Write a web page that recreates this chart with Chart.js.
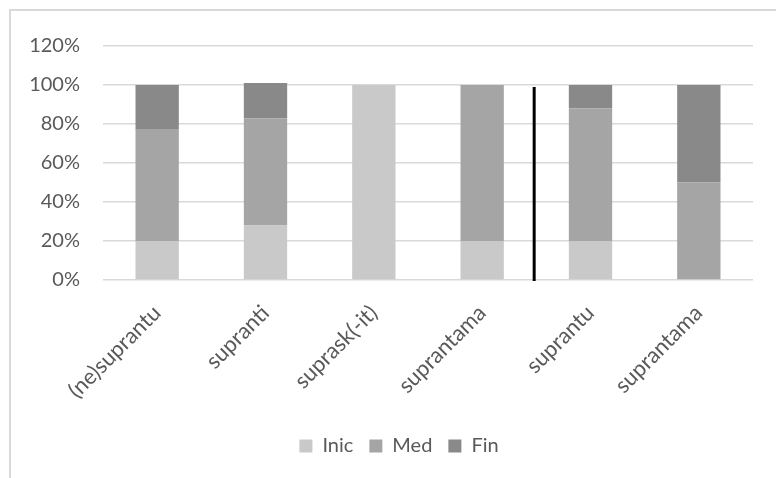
<!DOCTYPE html>
<html>
<head>
<meta charset="utf-8">
<script src="https://cdn.jsdelivr.net/npm/chart.js@4.4.1/dist/chart.umd.min.js"></script>
<style>
  html, body { margin: 0; padding: 0; background: #fff; overflow: hidden; }
  #frame {
    position: absolute;
    left: 9px;
    top: 9px;
    border-left: 2px solid #d9d9d9;
    border-top: 2px solid #d9d9d9;
  }
  canvas { display: block; }
</style>
</head>
<body>
<div id="frame">
  <canvas id="chart" width="765" height="467"></canvas>
</div>
<script>
// word forms on the x axis
const forms = ["(ne)suprantu", "supranti", "suprask(-it)", "suprantama", "suprantu", "suprantama"];

// share of each position, in percent
const inic = [20, 28, 100, 20, 20, 0];
const med = [57, 55, 0, 80, 68, 50];
const fin = [23, 18, 0, 0, 12, 50];

const yTicks = [0, 20, 40, 60, 80, 100, 120];

// black separator between the two groups of forms
const dividerX = 3.48;
const dividerTop = 99;

const dividerPlugin = {
  id: "divider",
  afterDatasetsDraw(chart) {
    const { ctx, scales } = chart;
    const x = scales.x.getPixelForValue(dividerX);
    ctx.save();
    ctx.strokeStyle = "#000";
    ctx.lineWidth = 3;
    ctx.beginPath();
    ctx.moveTo(x, scales.y.getPixelForValue(0) + 1);
    ctx.lineTo(x, scales.y.getPixelForValue(dividerTop));
    ctx.stroke();
    ctx.restore();
  }
};

// the legend sits a little right of the canvas centre
const legendShift = {
  id: "legendShift",
  afterLayout(chart) {
    chart.legend.left += 10;
    chart.legend.right += 10;
  }
};

const font = { family: "Lato", size: 20 };

new Chart(document.getElementById("chart"), {
  type: "bar",
  data: {
    labels: forms,
    datasets: [
      { label: "Inic", data: inic, backgroundColor: "#c9c9c9" },
      { label: "Med", data: med, backgroundColor: "#a5a5a5" },
      { label: "Fin", data: fin, backgroundColor: "#898989" }
    ]
  },
  options: {
    responsive: false,
    animation: false,
    layout: {
      padding: { left: 14, right: 23, top: 28, bottom: 12 }
    },
    datasets: {
      bar: { barPercentage: 0.4, categoryPercentage: 1, borderWidth: 0 }
    },
    plugins: {
      tooltip: { enabled: false },
      legend: {
        position: "bottom",
        labels: {
          font: font,
          color: "#595959",
          boxWidth: 13,
          boxHeight: 13,
          padding: 16
        }
      }
    },
    scales: {
      x: {
        stacked: true,
        grid: { display: false },
        border: { display: false },
        ticks: {
          font: { family: "Lato", size: 22 },
          color: "#595959",
          minRotation: 45,
          maxRotation: 45,
          autoSkip: false,
          padding: 12
        },
        afterFit(scale) { scale.height = 140; }
      },
      y: {
        stacked: true,
        min: 0,
        max: 120,
        afterBuildTicks(scale) {
          scale.ticks = yTicks.map((v) => ({ value: v }));
        },
        grid: { color: "#d9d9d9", lineWidth: 1.5, drawTicks: false },
        border: { display: false },
        ticks: {
          font: font,
          color: "#595959",
          padding: 23,
          callback: (v) => v + "%"
        },
        afterFit(scale) { scale.width = 78; }
      }
    }
  },
  plugins: [dividerPlugin, legendShift]
});
</script>
</body>
</html>
